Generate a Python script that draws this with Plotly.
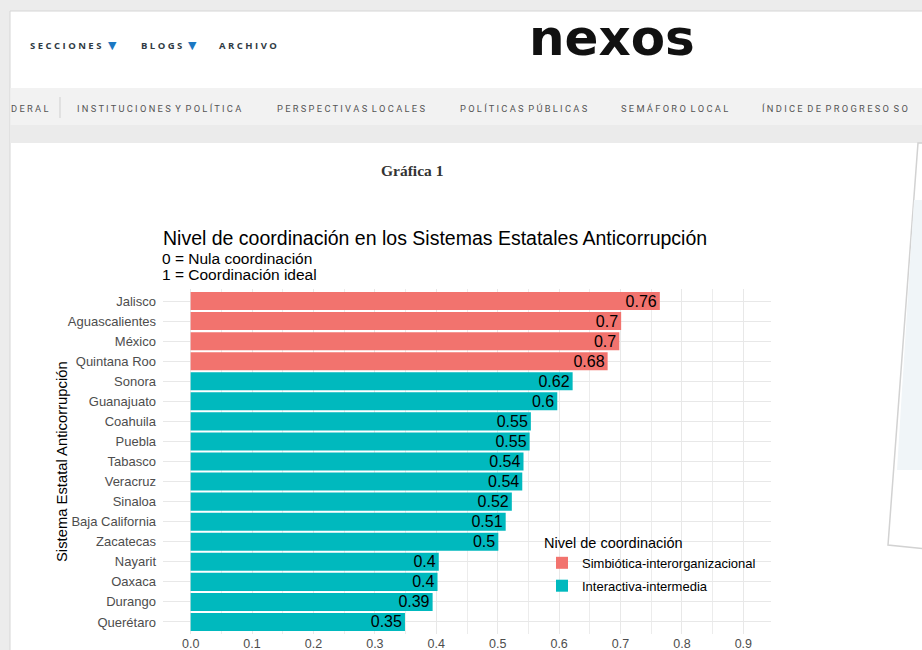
import plotly.graph_objects as go

# ---------------- data ----------------
states = ["Jalisco", "Aguascalientes", "México", "Quintana Roo", "Sonora",
          "Guanajuato", "Coahuila", "Puebla", "Tabasco", "Veracruz", "Sinaloa",
          "Baja California", "Zacatecas", "Nayarit", "Oaxaca", "Durango", "Querétaro"]
values = [0.764, 0.701, 0.698, 0.679, 0.622, 0.597, 0.554, 0.552, 0.542,
          0.540, 0.523, 0.513, 0.501, 0.404, 0.402, 0.394, 0.349]
levels = ["Simbiótica-interorganizacional"] * 4 + ["Interactiva-intermedia"] * 13
level_names = ["Simbiótica-interorganizacional", "Interactiva-intermedia"]
level_colors = ["#F2736E", "#00B9BE"]
x_ticks = [0.0, 0.1, 0.2, 0.3, 0.4, 0.5, 0.6, 0.7, 0.8, 0.9]

nav_items = ["DERAL", "INSTITUCIONES Y POLÍTICA", "PERSPECTIVAS LOCALES",
             "POLÍTICAS PÚBLICAS", "SEMÁFORO LOCAL", "ÍNDICE DE PROGRESO SO"]

# ---------------- layout helpers (pixel -> paper) ----------------
W, H = 922, 650
L, R, T, B = 163, 771, 289, 634


def fx(x):
    return (x - L) / (R - L)


def fy(y):
    return (B - y) / (B - T)


FONT = "Liberation Sans, Arial, sans-serif"

fig = go.Figure()
for name, color in zip(level_names, level_colors):
    xs = [v for v, lv in zip(values, levels) if lv == name]
    ys = [s for s, lv in zip(states, levels) if lv == name]
    fig.add_trace(go.Bar(
        x=xs, y=ys, orientation="h", name=name,
        marker=dict(color=color, line=dict(width=0)),
        text=xs, texttemplate="%{x:.2~f}",
        textposition="inside", insidetextanchor="end",
        textfont=dict(color="black", size=16, family=FONT),
        constraintext="none", textangle=0,
        legendgroup=name, hoverinfo="x+y",
    ))

shapes = [
    # page
    dict(type="rect", xref="paper", yref="paper", layer="below",
         x0=fx(10), x1=fx(W + 5), y0=fy(11), y1=fy(H + 5),
         fillcolor="white", line=dict(color="#d6d6d6", width=1)),
    # navigation bar
    dict(type="rect", xref="paper", yref="paper", layer="below",
         x0=fx(10.5), x1=fx(W + 5), y0=fy(88), y1=fy(125),
         fillcolor="#f2f2f2", line=dict(width=0)),
    dict(type="rect", xref="paper", yref="paper", layer="below",
         x0=fx(10.5), x1=fx(W + 5), y0=fy(125), y1=fy(143),
         fillcolor="#ebebeb", line=dict(width=0)),
    dict(type="line", xref="paper", yref="paper", layer="below",
         x0=fx(60), x1=fx(60), y0=fy(97), y1=fy(118),
         line=dict(color="#cfcfcf", width=1)),
    # tilted card on the right
    dict(type="path", xref="paper", yref="paper", layer="below",
         path=(f"M {fx(918)} {fy(143)} L {fx(W + 5)} {fy(143)} L {fx(W + 5)} {fy(549)} "
               f"L {fx(888)} {fy(545)} Z"),
         fillcolor="white", line=dict(color="#d2d2d2", width=1.5)),
    dict(type="path", xref="paper", yref="paper", layer="below",
         path=(f"M {fx(914)} {fy(200)} L {fx(W + 5)} {fy(200)} L {fx(W + 5)} {fy(470)} "
               f"L {fx(897)} {fy(470)} Z"),
         fillcolor="#f0f5f8", line=dict(width=0)),
]

annotations = []


def ann(text, x, y, size, color="#333", family=FONT, xanchor="left", **kw):
    annotations.append(dict(text=text, x=fx(x), y=fy(y), xref="paper", yref="paper",
                            xanchor=xanchor, yanchor="middle", showarrow=False,
                            font=dict(size=size, color=color, family=family), **kw))


# header
hdr_font = "Open Sans, DejaVu Sans, sans-serif"
ann("<b>S E C C I O N E S</b>", 28, 45, 9.5, "#2f3a44", hdr_font)
ann("▼", 106, 45, 11, "#1b78c2", "DejaVu Sans")
ann("<b>B L O G S</b>", 139, 45, 9.5, "#2f3a44", hdr_font)
ann("▼", 186, 45, 11, "#1b78c2", "DejaVu Sans")
ann("<b>A R C H I V O</b>", 217, 45, 9.5, "#2f3a44", hdr_font)
ann("<b>nexos</b>", 612, 38, 50, "#111111",
    "DejaVu Sans, sans-serif", xanchor="center")

# nav items
nav_x = [9, 75, 275, 458, 619, 760]
nav_font = "Roboto, DejaVu Sans, sans-serif"
for t, x in zip(nav_items, nav_x):
    ann(" ".join(t).replace("   ", "  "), x, 108, 9.3, "#555555", nav_font)

ann("<b>Gráfica 1</b>", 412, 171, 15.5, "#333333",
    "Liberation Serif, DejaVu Serif, serif", xanchor="center")

# subtitle
ann("0 = Nula coordinación", 160, 258.5, 15.5, "black")
ann("1 = Coordinación ideal", 160, 274, 15.5, "black")

# y axis title
ann("Sistema Estatal Anticorrupción", 62, 462, 14.8, "black", xanchor="center",
    textangle=-90)

fig.update_layout(
    template="none",
    width=W, height=H,
    margin=dict(l=L, r=W - R, t=T, b=H - B, pad=0),
    paper_bgcolor="#ececec",
    plot_bgcolor="rgba(0,0,0,0)",
    font=dict(family=FONT, color="#4d4d4d"),
    bargap=0.1,
    barmode="overlay",
    title=dict(text="Nivel de coordinación en los Sistemas Estatales Anticorrupción",
               x=0, xref="paper", xanchor="left", y=1 - 238 / H, yref="container",
               yanchor="middle", font=dict(size=19.5, color="black", family=FONT)),
    xaxis=dict(range=[-0.045, 0.945], tickvals=x_ticks, tickformat=".1f",
               showgrid=True, gridcolor="#e8e8e8", gridwidth=1.3,
               minor=dict(dtick=0.05, tick0=0, showgrid=True, gridcolor="#ececec",
                          gridwidth=1),
               zeroline=False, showline=False, ticks="", automargin=False,
               tickfont=dict(size=12.5, color="#4d4d4d")),
    yaxis=dict(categoryorder="array", categoryarray=states[::-1],
               range=[-0.6, len(states) - 0.4],
               showgrid=True, gridcolor="#e8e8e8", gridwidth=1.3,
               zeroline=False, showline=False, ticks="", automargin=False,
               ticklabelstandoff=6,
               tickfont=dict(size=13, color="#4d4d4d")),
    legend=dict(x=fx(542), y=fy(529), xanchor="left", yanchor="top",
                bgcolor="rgba(0,0,0,0)", traceorder="grouped",
                tracegroupgap=3,
                title=dict(text="Nivel de coordinación",
                           font=dict(size=14.5, color="black")),
                font=dict(size=13, color="black")),
    shapes=shapes,
    annotations=annotations,
)

fig.write_html("out.html",
               config={"displayModeBar": False},
               post_script="document.body.style.margin='0px';"
                           "document.body.style.overflow='hidden';")
